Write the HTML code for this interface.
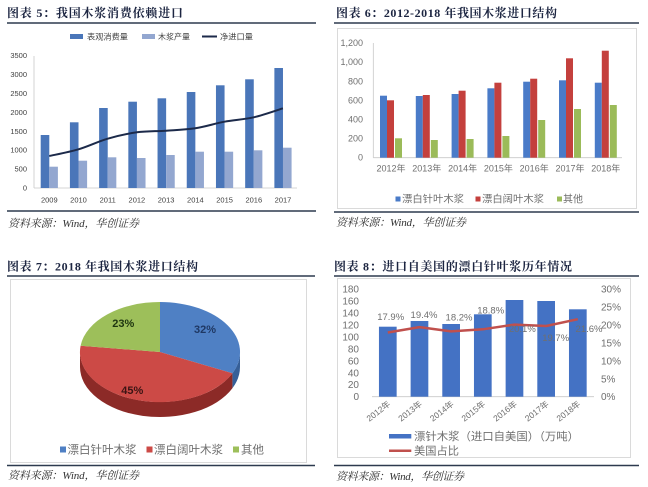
<!DOCTYPE html>
<html><head><meta charset="utf-8"><style>
html,body{margin:0;padding:0;background:#fff;}
svg{display:block;}
.t{font-family:"Liberation Serif","Noto Serif CJK SC",serif;font-weight:bold;fill:#1c2541;font-size:12px;}
.s{font-family:"Liberation Serif","Noto Serif CJK SC",serif;font-style:italic;fill:#333;font-size:11px;}
.a{font-family:"Liberation Sans","Noto Sans CJK SC",sans-serif;fill:#404040;}
.g{font-family:"Liberation Sans","Noto Sans CJK SC",sans-serif;fill:#6f6f6f;}
</style></head><body>
<svg width="648" height="487" viewBox="0 0 648 487" xmlns="http://www.w3.org/2000/svg">
<rect width="648" height="487" fill="#fff"/>

<!-- ===== Chart 5 ===== -->
<text class="t" x="7" y="17" textLength="176" lengthAdjust="spacing">图表 5：我国木浆消费依赖进口</text>
<line x1="7" y1="23" x2="316" y2="23" stroke="#2d3a4f" stroke-width="1.6"/>
<rect x="70" y="34" width="13" height="5" fill="#4a76b9"/>
<text class="a" x="87" y="39.5" font-size="8" textLength="41" lengthAdjust="spacingAndGlyphs">表观消费量</text>
<rect x="142" y="34" width="13" height="5" fill="#93a7d0"/>
<text class="a" x="158" y="39.5" font-size="8" textLength="32" lengthAdjust="spacingAndGlyphs">木浆产量</text>
<line x1="202" y1="36.5" x2="217" y2="36.5" stroke="#1c2a4a" stroke-width="2"/>
<text class="a" x="220" y="39.5" font-size="8" textLength="33" lengthAdjust="spacingAndGlyphs">净进口量</text>
<line x1="34" y1="56" x2="34" y2="188" stroke="#c8c8c8" stroke-width="0.8"/>
<line x1="34" y1="188" x2="297" y2="188" stroke="#c8c8c8" stroke-width="0.8"/>
<g class="a" font-size="7.5" text-anchor="end">
<text x="27" y="190.5">0</text><text x="27" y="171.6">500</text><text x="27" y="152.7">1000</text><text x="27" y="133.8">1500</text><text x="27" y="114.9">2000</text><text x="27" y="96">2500</text><text x="27" y="77.1">3000</text><text x="27" y="58.2">3500</text>
</g>
<g fill="#4a76b9">
<rect x="40.7" y="135" width="8.6" height="53"/>
<rect x="69.91" y="122.3" width="8.6" height="65.7"/>
<rect x="99.12" y="108" width="8.6" height="80"/>
<rect x="128.33" y="101.7" width="8.6" height="86.3"/>
<rect x="157.54" y="98.3" width="8.6" height="89.7"/>
<rect x="186.75" y="92" width="8.6" height="96"/>
<rect x="215.96" y="85.3" width="8.6" height="102.7"/>
<rect x="245.17" y="79.3" width="8.6" height="108.7"/>
<rect x="274.38" y="68" width="8.6" height="120"/>
</g>
<g fill="#93a7d0">
<rect x="49.3" y="166.7" width="8.6" height="21.3"/>
<rect x="78.51" y="160.7" width="8.6" height="27.3"/>
<rect x="107.72" y="157.3" width="8.6" height="30.7"/>
<rect x="136.93" y="158" width="8.6" height="30"/>
<rect x="166.14" y="155" width="8.6" height="33"/>
<rect x="195.35" y="151.7" width="8.6" height="36.3"/>
<rect x="224.56" y="151.7" width="8.6" height="36.3"/>
<rect x="253.77" y="150.3" width="8.6" height="37.7"/>
<rect x="282.98" y="147.7" width="8.6" height="40.3"/>
</g>
<path transform="translate(0.7,0)" fill="none" stroke="#1c2a4a" stroke-width="2"
 d="M48.6,156 C53.47,154.88 68.07,152.18 77.8,149.3 C87.53,146.42 97.27,141.53 107,138.7 C116.73,135.87 126.47,133.63 136.2,132.3 C145.93,130.97 155.67,131.37 165.4,130.7 C175.13,130.03 184.87,129.8 194.6,128.3 C204.33,126.8 214.07,123.53 223.8,121.7 C233.53,119.87 243.27,119.53 253,117.3 C262.73,115.07 277.33,109.8 282.2,108.3"/>
<g class="a" font-size="7.5" text-anchor="middle">
<text x="49.3" y="202.5">2009</text><text x="78.5" y="202.5">2010</text><text x="107.7" y="202.5">2011</text><text x="136.9" y="202.5">2012</text><text x="166.1" y="202.5">2013</text><text x="195.4" y="202.5">2014</text><text x="224.6" y="202.5">2015</text><text x="253.8" y="202.5">2016</text><text x="283" y="202.5">2017</text>
</g>
<line x1="7" y1="211" x2="316" y2="211" stroke="#2d3a4f" stroke-width="1.6"/>
<text class="s" x="8" y="227" textLength="131" lengthAdjust="spacing">资料来源：Wind，华创证券</text>

<!-- ===== Chart 6 ===== -->
<text class="t" x="336" y="17" textLength="221" lengthAdjust="spacing">图表 6：2012-2018 年我国木浆进口结构</text>
<line x1="334" y1="23" x2="639" y2="23" stroke="#2d3a4f" stroke-width="1.6"/>
<rect x="337.5" y="28.5" width="299" height="180" fill="none" stroke="#dadada" stroke-width="1"/>
<line x1="373.3" y1="43" x2="373.3" y2="157.7" stroke="#c8c8c8" stroke-width="0.8"/>
<line x1="373.3" y1="157.7" x2="622" y2="157.7" stroke="#c8c8c8" stroke-width="0.8"/>
<g class="g" font-size="9" text-anchor="end">
<text x="363" y="160.7">0</text><text x="363" y="141.6">200</text><text x="363" y="122.5">400</text><text x="363" y="103.4">600</text><text x="363" y="84.3">800</text><text x="363" y="65.2">1,000</text><text x="363" y="46.2">1,200</text>
</g>
<g fill="#4a7bc8">
<rect x="380" y="95.7" width="7" height="62"/>
<rect x="415.8" y="96" width="7" height="61.7"/>
<rect x="451.6" y="94" width="7" height="63.7"/>
<rect x="487.4" y="88.3" width="7" height="69.4"/>
<rect x="523.2" y="81.7" width="7" height="76"/>
<rect x="559" y="80.3" width="7" height="77.4"/>
<rect x="594.8" y="82.7" width="7" height="75"/>
</g>
<g fill="#c4403d">
<rect x="387" y="100.3" width="7" height="57.4"/>
<rect x="422.8" y="95" width="7" height="62.7"/>
<rect x="458.6" y="90.7" width="7" height="67"/>
<rect x="494.4" y="82.7" width="7" height="75"/>
<rect x="530.2" y="78.7" width="7" height="79"/>
<rect x="566" y="58.3" width="7" height="99.4"/>
<rect x="601.8" y="50.7" width="7" height="107"/>
</g>
<g fill="#9bbb59">
<rect x="395" y="138.3" width="7" height="19.4"/>
<rect x="430.8" y="140" width="7" height="17.7"/>
<rect x="466.6" y="139" width="7" height="18.7"/>
<rect x="502.4" y="136" width="7" height="21.7"/>
<rect x="538.2" y="120" width="7" height="37.7"/>
<rect x="574" y="109" width="7" height="48.7"/>
<rect x="609.8" y="105" width="7" height="52.7"/>
</g>
<g class="g" font-size="9" text-anchor="middle">
<text x="391" y="171.5">2012年</text><text x="426.8" y="171.5">2013年</text><text x="462.6" y="171.5">2014年</text><text x="498.4" y="171.5">2015年</text><text x="534.2" y="171.5">2016年</text><text x="570" y="171.5">2017年</text><text x="605.8" y="171.5">2018年</text>
</g>
<rect x="395.5" y="196.5" width="5" height="5" fill="#4a7bc8"/>
<text class="g" x="402" y="202.5" font-size="10" textLength="62" lengthAdjust="spacingAndGlyphs">漂白针叶木浆</text>
<rect x="475.5" y="196.5" width="5" height="5" fill="#c4403d"/>
<text class="g" x="482" y="202.5" font-size="10" textLength="62" lengthAdjust="spacingAndGlyphs">漂白阔叶木浆</text>
<rect x="557" y="196.5" width="5" height="5" fill="#9bbb59"/>
<text class="g" x="563" y="202.5" font-size="10" textLength="20" lengthAdjust="spacingAndGlyphs">其他</text>
<line x1="334" y1="212" x2="639" y2="212" stroke="#2d3a4f" stroke-width="1.6"/>
<text class="s" x="336" y="226" textLength="130" lengthAdjust="spacing">资料来源：Wind，华创证券</text>

<!-- ===== Chart 7 ===== -->
<text class="t" x="7" y="270.5" textLength="191" lengthAdjust="spacing">图表 7：2018 年我国木浆进口结构</text>
<line x1="7" y1="276" x2="315" y2="276" stroke="#2d3a4f" stroke-width="1.6"/>
<rect x="10.5" y="279.5" width="296" height="183" fill="none" stroke="#dadada" stroke-width="1"/>
<path d="M240,352 A80,50 0 0,1 232.4,373.3 L232.4,388.3 A80,50 0 0,0 240,367 Z" fill="#365f98"/>
<path d="M232.4,373.3 A80,50 0 0,1 80,352 L80,367 A80,50 0 0,0 232.4,388.3 Z" fill="#8c2a27"/>
<path d="M160,352 L160,302 A80,50 0 0,1 232.4,373.3 Z" fill="#4f80c4"/>
<path d="M160,352 L232.4,373.3 A80,50 0 0,1 80.6,345.7 Z" fill="#cc4a46"/>
<path d="M160,352 L80.6,345.7 A80,50 0 0,1 160,302 Z" fill="#9dbf5a"/>
<g font-family="Liberation Sans, sans-serif" font-weight="bold" font-size="11" text-anchor="middle">
<text x="205" y="333" fill="#1f3864">32%</text>
<text x="123.3" y="327" fill="#1e3510">23%</text>
<text x="132.3" y="394" fill="#3a1414">45%</text>
</g>
<rect x="60" y="446.5" width="6" height="6" fill="#4f80c4"/>
<text class="g" x="67.5" y="453.5" font-size="11.5" textLength="69" lengthAdjust="spacingAndGlyphs">漂白针叶木浆</text>
<rect x="146.5" y="446.5" width="6" height="6" fill="#cc4a46"/>
<text class="g" x="154" y="453.5" font-size="11.5" textLength="69" lengthAdjust="spacingAndGlyphs">漂白阔叶木浆</text>
<rect x="233" y="446.5" width="6" height="6" fill="#9dbf5a"/>
<text class="g" x="241" y="453.5" font-size="11.5" textLength="23" lengthAdjust="spacingAndGlyphs">其他</text>
<line x1="7" y1="465.5" x2="315" y2="465.5" stroke="#2d3a4f" stroke-width="1.6"/>
<text class="s" x="8" y="479" textLength="131" lengthAdjust="spacing">资料来源：Wind，华创证券</text>

<!-- ===== Chart 8 ===== -->
<text class="t" x="334" y="270.5" textLength="238" lengthAdjust="spacing">图表 8：进口自美国的漂白针叶浆历年情况</text>
<line x1="334" y1="276" x2="639" y2="276" stroke="#2d3a4f" stroke-width="1.6"/>
<rect x="337.5" y="278.5" width="293" height="179" fill="none" stroke="#dadada" stroke-width="1"/>
<g class="g" font-size="10" text-anchor="end">
<text x="359" y="400.2">0</text><text x="359" y="388.2">20</text><text x="359" y="376.3">40</text><text x="359" y="364.3">60</text><text x="359" y="352.4">80</text><text x="359" y="340.4">100</text><text x="359" y="328.4">120</text><text x="359" y="316.5">140</text><text x="359" y="304.5">160</text><text x="359" y="292.5">180</text>
</g>
<g class="g" font-size="10">
<text x="601" y="400.2">0%</text><text x="601" y="382.3">5%</text><text x="601" y="364.3">10%</text><text x="601" y="346.4">15%</text><text x="601" y="328.5">20%</text><text x="601" y="310.5">25%</text><text x="601" y="292.5">30%</text>
</g>
<line x1="372" y1="396.7" x2="594" y2="396.7" stroke="#c8c8c8" stroke-width="0.8"/>
<g fill="#4472c4">
<rect x="378.95" y="326.7" width="17.7" height="70"/>
<rect x="410.62" y="321" width="17.7" height="75.7"/>
<rect x="442.29" y="324" width="17.7" height="72.7"/>
<rect x="473.96" y="314.3" width="17.7" height="82.4"/>
<rect x="505.63" y="300" width="17.7" height="96.7"/>
<rect x="537.3" y="301" width="17.7" height="95.7"/>
<rect x="568.97" y="309.3" width="17.7" height="87.4"/>
</g>
<polyline fill="none" stroke="#c0504d" stroke-width="2.5" stroke-linejoin="round"
 points="387.8,332.5 419.5,327.1 451.1,331.4 482.8,329.3 514.5,324.6 546.2,326 577.8,319.2"/>
<g class="g" font-size="9.5" text-anchor="middle">
<text x="390.7" y="320.2">17.9%</text>
<text x="424" y="317.8">19.4%</text>
<text x="459" y="320.5">18.2%</text>
<text x="490.7" y="313.5">18.8%</text>
<text x="522.3" y="331.8">20.1%</text>
<text x="555.7" y="340.8">19.7%</text>
<text x="589" y="331.8">21.6%</text>
</g>
<g class="g" font-size="8.5" text-anchor="end">
<text transform="translate(391,405) rotate(-38)">2012年</text>
<text transform="translate(422.7,405) rotate(-38)">2013年</text>
<text transform="translate(454.4,405) rotate(-38)">2014年</text>
<text transform="translate(486,405) rotate(-38)">2015年</text>
<text transform="translate(517.7,405) rotate(-38)">2016年</text>
<text transform="translate(549.4,405) rotate(-38)">2017年</text>
<text transform="translate(581,405) rotate(-38)">2018年</text>
</g>
<rect x="389" y="434" width="22.3" height="4.5" fill="#4472c4"/>
<text class="g" x="414" y="440" font-size="11" textLength="165" lengthAdjust="spacingAndGlyphs">漂针木浆（进口自美国）（万吨）</text>
<line x1="389" y1="450.7" x2="411.3" y2="450.7" stroke="#c0504d" stroke-width="2.5"/>
<text class="g" x="414" y="454.5" font-size="11" textLength="45" lengthAdjust="spacingAndGlyphs">美国占比</text>
<line x1="334" y1="465.5" x2="639" y2="465.5" stroke="#2d3a4f" stroke-width="1.6"/>
<text class="s" x="336" y="480" textLength="128" lengthAdjust="spacing">资料来源：Wind，华创证券</text>
</svg>
</body></html>
